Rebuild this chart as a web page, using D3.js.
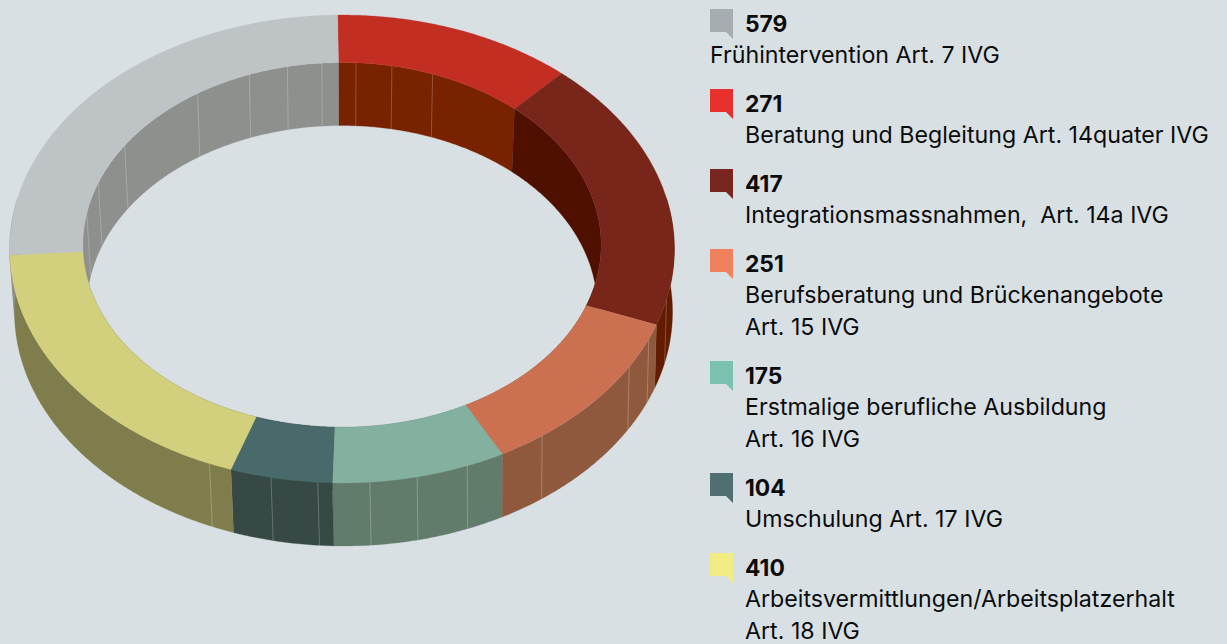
<!DOCTYPE html>
<html><head><meta charset="utf-8">
<script src="https://cdn.jsdelivr.net/npm/d3@7/dist/d3.min.js"></script>
<style>html,body{margin:0;padding:0;background:#d8e0e4;overflow:hidden}svg{display:block}text{font-family:Inter,"Noto Sans",sans-serif;fill:#0c0c0c;white-space:pre}</style>
</head><body><svg id="c" width="1227" height="644"></svg>
<script>
const values=[271,417,251,175,104,410,579];
const numbers=[579,271,417,251,175,104,410];
const labels=[["Frühintervention Art. 7 IVG"],["Beratung und Begleitung Art. 14quater IVG"],["Integrationsmassnahmen,  Art. 14a IVG"],["Berufsberatung und Brückenangebote","Art. 15 IVG"],["Erstmalige berufliche Ausbildung","Art. 16 IVG"],["Umschulung Art. 17 IVG"],["Arbeitsvermittlungen/Arbeitsplatzerhalt","Art. 18 IVG"]];
const legendColors=["#a6adb0","#e8302e","#7a2620","#f0815f","#7bc1b0","#4f6f70","#f2ec84"];
const topColors=["#c32e22","#78251a","#cb7152","#83b09f","#486a6a","#d2cf7d","#bec3c5"];
const outerWall=["#6e2000","#641c00","#8f593d","#627c6c","#374944","#807d4c","#8d908d"];
const innerWall=["#782200","#4f1000","#8f593d","#627c6c","#374944","#807d4c","#8d908d"];
const outerSeams=[105,115,122.4,144.5,158.8,167.5,175.4,184,191.8,202.5];
const innerSeams=[3.2,11.5,21.2,278,288,301.3,325,338.3,347.4,355.4];

const svg=d3.select("#c");
const rad=Math.PI/180, k=0.0449, A=332, B=233.5, cx=342, cy=238.5, depth=63, ratio=0.78, rot=-0.8;
// the drawn ring's slice edges sit slightly off a pure pie: small correction in degrees
const warp=d3.scaleLinear().domain([0,43,152,181,265,360]).range([0,-0.3,0,0.7,1.2,0]);
const slices=d3.pie().sort(null).startAngle(0).endAngle(2*Math.PI)(values).map(d=>{
  const f=a=>(a/rad+warp(a/rad)+rot)*rad;
  return {...d,startAngle:f(d.startAngle),endAngle:f(d.endAngle)};});
// ring-plane to screen projection
const proj=(t,r,low)=>{const u=r*Math.sin(t),v=-r*Math.cos(t),w=1-k*v;
  const sx=low?(r===1?0.99:0.985):1, sh=low&&r===1?1.5:0;
  return [cx+sh+sx*A*u/w, cy+B*v/w+(low?depth:0)];};
const edge=(a,b,r,low)=>{const n=Math.max(2,Math.ceil((b-a)/(0.5*rad)));
  return d3.range(n+1).map(i=>proj(a+(b-a)*i/n,r,low));};
const line=d3.line();
const wall=(a,b,r)=>line(edge(a,b,r,false).concat(edge(a,b,r,true).reverse()))+"Z";

// inner walls
svg.append("g").selectAll("path").data(slices).join("path")
  .attr("d",d=>wall(d.startAngle,d.endAngle,ratio)).attr("fill",(d,i)=>innerWall[i])
  .attr("stroke",(d,i)=>innerWall[i]).attr("stroke-width",0.3);
svg.append("g").selectAll("path").data(innerSeams).join("path")
  .attr("d",d=>line([proj(d*rad,ratio,false),proj(d*rad,ratio,true)]))
  .attr("stroke","#fff").attr("stroke-opacity",.28).attr("stroke-width",.8);
// outer walls, only the near half is ever visible
const near=slices.map(d=>({...d,a:Math.max(d.startAngle,80*rad),b:Math.min(d.endAngle,280*rad)}));
svg.append("g").selectAll("path").data(near).join("path")
  .attr("d",d=>d.b>d.a?wall(d.a,d.b,1):null).attr("fill",(d,i)=>outerWall[i])
  .attr("stroke",(d,i)=>outerWall[i]).attr("stroke-width",0.3);
svg.append("g").selectAll("path").data(outerSeams).join("path")
  .attr("d",d=>line([proj(d*rad,1,false),proj(d*rad,1,true)]))
  .attr("stroke","#fff").attr("stroke-opacity",.3).attr("stroke-width",.8);
// top surface
svg.append("g").selectAll("path").data(slices).join("path")
  .attr("d",d=>line(edge(d.startAngle,d.endAngle,1,false).concat(edge(d.startAngle,d.endAngle,ratio,false).reverse()))+"Z")
  .attr("fill",(d,i)=>topColors[i]).attr("stroke",(d,i)=>topColors[i]).attr("stroke-width",0.3);

// legend
const squareY=[9,89,169,249,361,473,553];
const leg=svg.append("g").selectAll("g").data(numbers).join("g").attr("transform",(d,i)=>`translate(0,${squareY[i]})`);
leg.append("path").attr("d","M710 0H733V30L726 23H710Z").attr("fill",(d,i)=>legendColors[i]);
leg.append("text").attr("x",745).attr("y",22.5).attr("font-size",22.8).attr("font-weight",700).text(d=>d);
leg.each(function(d,i){d3.select(this).selectAll("text.l").data(labels[i]).join("text").attr("class","l")
  .attr("x",i===0?710:745).attr("y",(t,j)=>54+j*32).attr("font-size",23.2).text(t=>t);});
</script></body></html>
